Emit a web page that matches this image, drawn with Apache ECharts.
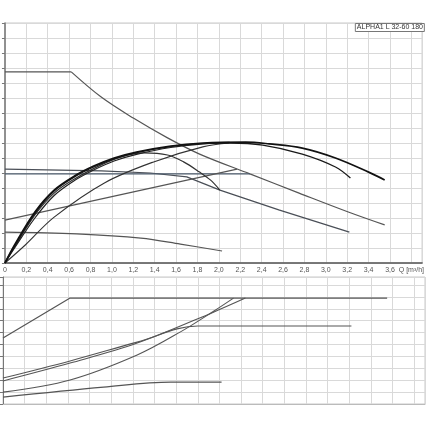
<!DOCTYPE html>
<html><head><meta charset="utf-8">
<script src="https://cdn.jsdelivr.net/npm/echarts@6/dist/echarts.min.js"></script>
<style>html,body{margin:0;padding:0;background:#fff}#c{width:427px;height:430px}</style>
</head><body><div id="c"></div>
<script>
// Q in m3/h, H in m (upper), P1 in W (lower)
var title = "ALPHA1 L 32-60 180";
var xTicks = [0,0.2,0.4,0.6,0.8,1.0,1.2,1.4,1.6,1.8,2.0,2.2,2.4,2.6,2.8,3.0,3.2,3.4,3.6];
var qUnit = "Q [m³/h]";

// Head curves
var hMaxFlat = [[0,6.37],[0.62,6.37]];
var hMaxFall = [[0.62,6.37],[0.9,5.53],[1.2,4.83],[1.52,4.17],[1.82,3.63],[2.29,2.97],[2.75,2.33],[3.21,1.70],[3.55,1.27]];
var hSpeed2 = [[0,3.13],[0.9,3.07],[1.36,3.0],[1.70,2.87],[1.87,2.63],[2.01,2.43],[2.56,1.77],[3.22,1.03]];
var hConstP = [[0,2.97],[2.29,2.97]];
var hPropP = [[0,1.43],[2.17,3.13]];
var hSpeed1 = [[0,1.03],[0.67,0.97],[1.27,0.83],[1.64,0.63],[2.03,0.40]];

// Efficiency-type curves (drawn on the head scale)
var eMax = [[0,0],[0.09,0.6],[0.28,1.7],[0.46,2.43],[0.65,2.9],[0.83,3.23],[1.02,3.5],[1.23,3.7],[1.55,3.9],[1.85,4.0],[2.25,4.03],[2.47,3.97],[2.78,3.83],[3.09,3.5],[3.40,3.03],[3.55,2.77]];
var eSecond = [[0,0],[0.09,0.57],[0.28,1.65],[0.46,2.4],[0.65,2.87],[0.83,3.2],[1.02,3.47],[1.23,3.68],[1.55,3.88],[1.85,3.98],[2.1,4.0],[2.41,3.93],[2.78,3.63],[3.09,3.2],[3.23,2.83]];
var eThird = [[0,0],[0.09,0.5],[0.28,1.5],[0.46,2.25],[0.65,2.75],[0.83,3.1],[1.02,3.4],[1.23,3.62],[1.55,3.85],[1.85,3.97],[2.1,4.02]];
var eSlow = [[0,0],[0.19,0.6],[0.46,1.53],[0.93,2.67],[1.39,3.37],[1.85,3.87],[2.1,4.0]];
var eHump = [[0,0],[0.09,0.53],[0.28,1.6],[0.46,2.33],[0.65,2.8],[0.9,3.27],[1.08,3.53],[1.30,3.67],[1.52,3.6],[1.67,3.37],[1.82,3.03],[1.92,2.77],[2.01,2.43]];

// Power curves
var pMax = [[0,27.7],[0.62,44.5],[3.55,44.5]];
var pSpeed2 = [[0,10.9],[0.62,18.1],[1.24,26.0],[1.80,32.8],[3.22,32.8]];
var pConstP = [[0,9.7],[0.62,17.2],[1.24,25.6],[1.95,38.7],[2.24,44.5]];
var pPropP = [[0,5.0],[0.62,10.1],[1.24,20.6],[1.64,30.3],[1.95,39.1],[2.13,44.5]];
var pSpeed1 = [[0,2.9],[0.93,7.1],[1.55,9.2],[2.02,9.2]];

function fmt(v){
  if (Math.abs(v-3.8)<1e-6) return qUnit;
  if (v>3.65) return '';
  if (v===0) return '0';
  return v.toFixed(1).replace('.',',');
}
var gridLine = {show:true, lineStyle:{color:'#d9d9d9', width:1}};
function line(data, idx, color, width, smooth){
  return {type:'line', data:data, xAxisIndex:idx, yAxisIndex:idx, symbol:'none', smooth:smooth?0.35:false,
    lineStyle:{color:color, width:width}, silent:true, animation:false};
}
var chart = echarts.init(document.getElementById('c'), null, {renderer:'canvas'});
chart.setOption({
  animation:false,
  backgroundColor:'#fff',
  title:{text:title, right:2, top:23, padding:[1,2,1,2], borderColor:'#777', borderWidth:1, backgroundColor:'#fff',
    textStyle:{fontSize:7, fontWeight:'normal', color:'#333', fontFamily:'Liberation Sans'}},
  grid:[
    {left:3, right:2, top:23, height:240, show:true, borderColor:'#c8c8c8', borderWidth:1},
    {left:3, right:2, top:277, height:127, show:true, borderColor:'#c8c8c8', borderWidth:1}
  ],
  xAxis:[
    {type:'value', gridIndex:0, min:0, max:3.9, interval:0.2,
     axisLine:{show:true, lineStyle:{color:'#555', width:1.5}}, axisTick:{show:false},
     axisLabel:{show:true, fontSize:7, color:'#555', margin:4, formatter:fmt, showMaxLabel:true, fontFamily:'Liberation Sans'},
     splitLine:gridLine},
    {type:'value', gridIndex:1, min:0, max:3.9, interval:0.2,
     axisLine:{show:true, lineStyle:{color:'#bbb'}}, axisTick:{show:false}, axisLabel:{show:false},
     splitLine:gridLine}
  ],
  yAxis:[
    {type:'value', gridIndex:0, min:0, max:8, interval:0.5,
     axisLine:{show:true, lineStyle:{color:'#777', width:1.5}}, axisTick:{show:true, length:3, lineStyle:{color:'#777'}},
     axisLabel:{show:false}, splitLine:gridLine},
    {type:'value', gridIndex:1, min:0, max:53.36, interval:5,
     axisLine:{show:true, lineStyle:{color:'#777', width:1}}, axisTick:{show:true, length:3, lineStyle:{color:'#777'}},
     axisLabel:{show:false}, splitLine:gridLine}
  ],
  series:[
    line(hMaxFlat,0,'#555',1.2,false),
    line(hMaxFall,0,'#555',1.2,true),
    line(hSpeed2,0,'#4a4f57',1.2,false),
    line(hConstP,0,'#4b5a6b',1.2,false),
    line(hPropP,0,'#555',1.1,false),
    line(hSpeed1,0,'#555',1.1,true),
    line(eSlow,0,'#333',1.1,true),
    line(eHump,0,'#333',1.2,true),
    line(eThird,0,'#222',1.2,true),
    line(eSecond,0,'#1a1a1a',1.3,true),
    line(eMax,0,'#111',1.7,true),
    line(pMax,1,'#555',1.2,false),
    line(pSpeed2,1,'#555',1.1,true),
    line(pConstP,1,'#555',1.1,true),
    line(pPropP,1,'#555',1.1,true),
    line(pSpeed1,1,'#555',1.1,true)
  ]
});
</script></body></html>
